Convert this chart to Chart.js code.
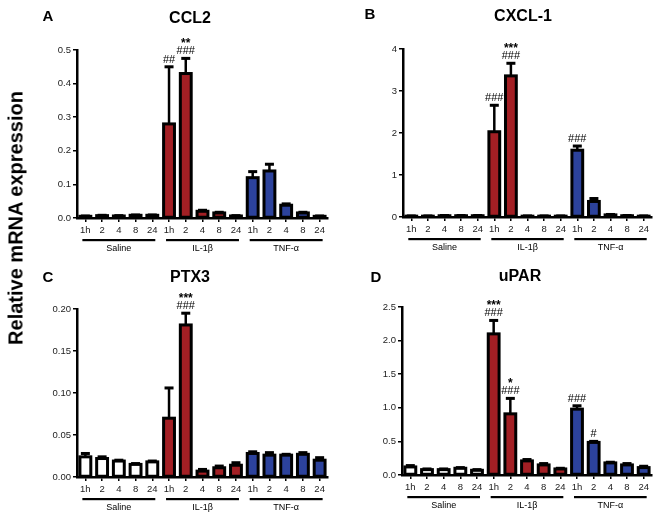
<!DOCTYPE html>
<html>
<head>
<meta charset="utf-8">
<script src="https://cdn.jsdelivr.net/npm/chart.js@4"></script>
<style>
  body { margin: 0; background: #fff; }
  #wrap { position: relative; width: 663px; height: 518px; font-family: "Liberation Sans", Arial, sans-serif; }
  canvas { position: absolute; }
  #ylab { position: absolute; left: 16px; top: 218px; width: 320px; margin-left: -160px; text-align: center;
          transform: translateY(-50%) rotate(-90deg); font-weight: bold; font-size: 20px; color: #000; }
</style>
</head>
<body>
<div id="wrap">
  <canvas id="cA" width="331" height="259" style="left:0;top:0"></canvas>
  <canvas id="cB" width="332" height="259" style="left:331px;top:0"></canvas>
  <canvas id="cC" width="331" height="259" style="left:0;top:259px"></canvas>
  <canvas id="cD" width="332" height="259" style="left:331px;top:259px"></canvas>
  <div id="ylab">Relative mRNA expression</div>
</div>
<script>
// etiquetas comunes
const tiempos = ['1h', '2', '4', '8', '24', '1h', '2', '4', '8', '24', '1h', '2', '4', '8', '24'];
const grupos = ['Saline', 'IL-1β', 'TNF-α'];

// CCL2
const ccl2Media = [0.005, 0.007, 0.006, 0.008, 0.008, 0.28, 0.43, 0.02, 0.015, 0.006, 0.12, 0.14, 0.038, 0.015, 0.005];
const ccl2Sem = [0.001, 0.001, 0.001, 0.001, 0.001, 0.17, 0.045, 0.003, 0.002, 0.001, 0.018, 0.02, 0.004, 0.002, 0.001];
const ccl2Hash = ['', '', '', '', '', '##', '###', '', '', '', '', '', '', '', ''];
const ccl2Star = ['', '', '', '', '', '', '**', '', '', '', '', '', '', '', ''];

// CXCL-1
const cxcl1Media = [0.02, 0.02, 0.03, 0.03, 0.03, 2.03, 3.36, 0.02, 0.02, 0.02, 1.59, 0.37, 0.05, 0.03, 0.02];
const cxcl1Sem = [0.005, 0.005, 0.005, 0.005, 0.005, 0.63, 0.3, 0.005, 0.005, 0.005, 0.1, 0.07, 0.01, 0.005, 0.005];
const cxcl1Hash = ['', '', '', '', '', '###', '###', '', '', '', '###', '', '', '', ''];
const cxcl1Star = ['', '', '', '', '', '', '***', '', '', '', '', '', '', '', ''];

// PTX3
const ptx3Media = [0.024, 0.022, 0.019, 0.015, 0.018, 0.070, 0.181, 0.007, 0.011, 0.014, 0.028, 0.026, 0.026, 0.027, 0.020];
const ptx3Sem = [0.004, 0.002, 0.001, 0.001, 0.001, 0.036, 0.014, 0.002, 0.002, 0.003, 0.002, 0.003, 0.001, 0.002, 0.003];
const ptx3Hash = ['', '', '', '', '', '', '###', '', '', '', '', '', '', '', ''];
const ptx3Star = ['', '', '', '', '', '', '***', '', '', '', '', '', '', '', ''];

// uPAR
const uparMedia = [0.12, 0.08, 0.08, 0.10, 0.07, 2.10, 0.91, 0.21, 0.15, 0.09, 0.98, 0.485, 0.18, 0.15, 0.11];
const uparSem = [0.02, 0.01, 0.01, 0.01, 0.01, 0.2, 0.23, 0.02, 0.02, 0.01, 0.05, 0.015, 0.01, 0.02, 0.02];
const uparHash = ['', '', '', '', '', '###', '###', '', '', '', '###', '#', '', '', ''];
const uparStar = ['', '', '', '', '', '***', '*', '', '', '', '', '', '', '', ''];

const colores = ['#ffffff', '#ffffff', '#ffffff', '#ffffff', '#ffffff',
  '#a31f24', '#a31f24', '#a31f24', '#a31f24', '#a31f24',
  '#2c429c', '#2c429c', '#2c429c', '#2c429c', '#2c429c'];

const fuente = '"Liberation Sans", Arial, sans-serif';

// dibuja bordes, barras de error, anotaciones, grupos y titulos
const panelPlugin = {
  id: 'panel',
  afterDatasetsDraw(chart, args, o) {
    const ctx = chart.ctx;
    const ys = chart.scales.y;
    const meta = chart.getDatasetMeta(0);
    const area = chart.chartArea;
    ctx.save();
    ctx.fillStyle = '#000';
    ctx.strokeStyle = '#000';
    // borde grueso de cada barra (centrado en el contorno, como en GraphPad)
    meta.data.forEach(bar => {
      const p = bar.getProps(['x', 'y', 'base', 'width'], true);
      ctx.lineWidth = 3;
      ctx.strokeRect(p.x - p.width / 2, p.y, p.width, p.base - p.y);
    });
    o.media.forEach((m, i) => {
      const cx = meta.data[i].x;
      const y0 = ys.getPixelForValue(m);
      const y1 = ys.getPixelForValue(m + o.sem[i]);
      ctx.lineWidth = 2.5;
      ctx.beginPath();
      ctx.moveTo(cx, y0);
      ctx.lineTo(cx, y1);
      ctx.stroke();
      ctx.fillRect(cx - 4.5, y1 - 1.5, 9, 3);
      // anotaciones
      ctx.textAlign = 'center';
      ctx.textBaseline = 'alphabetic';
      let base = y1 - 4;
      if (o.hash[i]) {
        ctx.font = '11px ' + fuente;
        ctx.fillText(o.hash[i], cx, base);
        base -= 10;
      }
      if (o.star[i]) {
        ctx.font = 'bold 12px ' + fuente;
        ctx.fillText(o.star[i], cx, base + 3);
      }
    });
    // lineas de grupo
    grupos.forEach((g, k) => {
      const xa = meta.data[k * 5].x - 3;
      const xb = meta.data[k * 5 + 4].x + 3;
      const yl = area.bottom + 22;
      ctx.fillRect(xa, yl - 1, xb - xa, 2.2);
      ctx.font = '9px ' + fuente;
      ctx.textAlign = 'center';
      ctx.textBaseline = 'middle';
      ctx.fillText(g, (xa + xb) / 2, area.bottom + 31);
    });
    // letra y titulo
    ctx.textAlign = 'center';
    ctx.textBaseline = 'middle';
    ctx.font = 'bold 15px ' + fuente;
    ctx.fillText(o.letra, o.letraX, o.letraY);
    ctx.font = 'bold 16px ' + fuente;
    ctx.fillText(o.titulo, o.tituloX, o.tituloY);
    ctx.restore();
  }
};

function crearPanel(id, media, sem, hash, star, cfg) {
  const ctx = document.getElementById(id).getContext('2d');
  new Chart(ctx, {
    type: 'bar',
    data: {
      labels: tiempos,
      datasets: [{
        data: media,
        backgroundColor: colores,
        borderWidth: 0,
        barPercentage: 0.65,
        categoryPercentage: 1.0
      }]
    },
    options: {
      responsive: false,
      animation: false,
      layout: { padding: { left: 0, top: cfg.top, right: cfg.right, bottom: 0 } },
      scales: {
        x: {
          afterFit: s => { s.height = cfg.xh; },
          grid: { drawOnChartArea: false, drawTicks: true, tickLength: 4, offset: false, color: '#000', lineWidth: 1.5 },
          border: { display: true, color: '#000', width: 2.5 },
          ticks: { color: '#222', font: { size: 9.5, family: fuente }, padding: 3, autoSkip: false, maxRotation: 0 }
        },
        y: {
          min: 0,
          max: cfg.max,
          afterFit: s => { s.width = cfg.yw; },
          grid: { drawOnChartArea: false, drawTicks: true, tickLength: 4, color: '#000', lineWidth: 1.5 },
          border: { display: true, color: '#000', width: 2.5 },
          ticks: {
            stepSize: cfg.step,
            color: '#222',
            font: { size: 9.5, family: fuente },
            padding: 2,
            callback: v => v.toFixed(cfg.dec)
          }
        }
      },
      plugins: {
        legend: { display: false },
        tooltip: { enabled: false },
        panel: {
          media: media, sem: sem, hash: hash, star: star,
          letra: cfg.letra, letraX: cfg.lx, letraY: cfg.ly,
          titulo: cfg.titulo, tituloX: cfg.tx, tituloY: cfg.ty
        }
      }
    },
    plugins: [panelPlugin]
  });
}

document.addEventListener('DOMContentLoaded', function() {
  crearPanel('cA', ccl2Media, ccl2Sem, ccl2Hash, ccl2Star,
    { max: 0.5, step: 0.1, dec: 1, yw: 77, xh: 41, top: 50, right: 3, letra: 'A', lx: 48, ly: 17, titulo: 'CCL2', tx: 190, ty: 19 });
  crearPanel('cB', cxcl1Media, cxcl1Sem, cxcl1Hash, cxcl1Star,
    { max: 4, step: 1, dec: 0, yw: 72, xh: 42, top: 49, right: 11, letra: 'B', lx: 39, ly: 15, titulo: 'CXCL-1', tx: 192, ty: 17 });
  crearPanel('cC', ptx3Media, ptx3Sem, ptx3Hash, ptx3Star,
    { max: 0.2, step: 0.05, dec: 2, yw: 77, xh: 41, top: 50, right: 3, letra: 'C', lx: 48, ly: 19, titulo: 'PTX3', tx: 190, ty: 19 });
  crearPanel('cD', uparMedia, uparSem, uparHash, uparStar,
    { max: 2.5, step: 0.5, dec: 1, yw: 71, xh: 43, top: 48, right: 11, letra: 'D', lx: 45, ly: 19, titulo: 'uPAR', tx: 189, ty: 18 });
});
</script>
</body>
</html>
